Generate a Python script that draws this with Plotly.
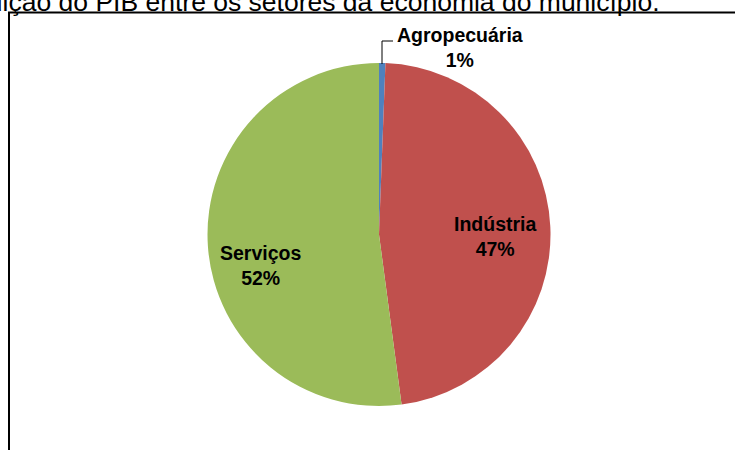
import plotly.graph_objects as go

# Data
setores = ["Agropecuária", "Indústria", "Serviços"]
participacao = [0.6, 47.3, 52.1]
cores = ["#4F81BD", "#C0504D", "#9BBB59"]
titulo = "Figura 1 - Distribuição do PIB entre os setores da economia do município."

W, H = 735, 450
total = sum(participacao)
pct = [round(v / total * 100) for v in participacao]

fig = go.Figure(go.Pie(
    labels=setores,
    values=participacao,
    marker=dict(colors=cores, line=dict(width=0)),
    sort=False,
    direction="clockwise",
    rotation=0,
    textinfo="none",
    hoverinfo="label+percent",
    showlegend=False,
    domain=dict(x=[207 / W, 551 / W], y=[44 / H, 387 / H]),
))

lab_font = dict(family="Liberation Sans, Arial", size=19.5, color="#000000")
# label positions (pixel coords from top-left) for each sector
lab_pos = [(460, 47), (495, 237), (260, 265)]
annotations = []
for name, p, (px, py) in zip(setores, pct, lab_pos):
    annotations.append(dict(
        x=px / W, y=1 - py / H, xref="paper", yref="paper",
        text=f"<b>{name}<br>{p}%</b>", showarrow=False,
        font=lab_font, xanchor="center", yanchor="middle", align="center",
    ))

# title (cut off at left and top as in reference)
annotations.append(dict(
    x=662 / W, y=1 - 2.5 / H, xref="paper", yref="paper",
    text=titulo, showarrow=False,
    font=dict(family="Liberation Sans, Arial", size=26.5, color="#000000"),
    xanchor="right", yanchor="middle",
))

shapes = [
    # chart frame
    dict(type="rect", xref="paper", yref="paper",
         x0=9 / W, x1=1 + 20 / W, y0=-20 / H, y1=1 - 12.5 / H,
         line=dict(color="#000000", width=2), fillcolor="rgba(0,0,0,0)"),
    # leader line for Agropecuária
    dict(type="path", xref="paper", yref="paper",
         path=f"M {382 / W},{1 - 64 / H} L {382 / W},{1 - 41 / H} L {393 / W},{1 - 41 / H}",
         line=dict(color="#000000", width=1)),
]

fig.update_layout(
    width=W, height=H,
    margin=dict(l=0, r=0, t=0, b=0),
    paper_bgcolor="#FFFFFF",
    plot_bgcolor="#FFFFFF",
    annotations=annotations,
    shapes=shapes,
)

fig.write_html("out.html")
